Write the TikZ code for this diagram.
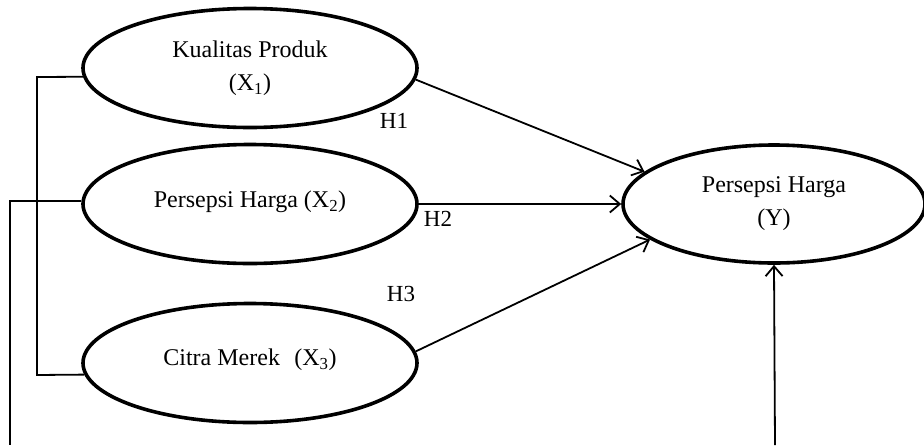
\documentclass[tikz,border=0pt]{standalone}
\usepackage{fontspec}
\setmainfont{Liberation Serif}
\usetikzlibrary{shapes.geometric,arrows.meta}
\tikzset{
  construct/.style={ellipse,draw,line width=3.6pt,inner sep=0pt,align=center,
    font=\fontsize{24}{33}\selectfont},
  link/.style={line width=1.8pt},
  arr/.style={link,-{Straight Barb[length=10pt,width=17pt,line width=1.8pt]}},
  hyp/.style={font=\fontsize{23}{26}\selectfont,inner sep=0pt}
}
\begin{document}
\begin{tikzpicture}[x=1pt,y=-1pt]
\useasboundingbox (0,0) rectangle (924,445);
\clip (0,0) rectangle (924,445);
\node[construct,minimum width=334pt,minimum height=119pt] (X1) at (250,68) {Kualitas Produk\\(X\textsubscript{1})};
\node[construct,minimum width=334pt,minimum height=119pt] (X2) at (250,204) {\raisebox{10pt}{Persepsi Harga (X\textsubscript{2})}};
\node[construct,minimum width=334pt,minimum height=119pt] (X3) at (250,363) {\raisebox{11pt}{Citra Merek\hspace{0.6em}(X\textsubscript{3})}};
\node[construct,minimum width=302pt,minimum height=118pt] (Y) at (774,204) {Persepsi Harga\\(Y)};
\node[hyp] (H1) at (394,121) {H1};
\node[hyp] (H2) at (438,219) {H2};
\node[hyp] (H3) at (401,294) {H3};
\coordinate (L1) at (37,77);
\coordinate (L3) at (37,375);
\coordinate (B1) at (10,445);
\coordinate (B2) at (775,445);
\draw[link] (X1.183) -- (L1) -- (L3) -- (X3.184);
\draw[link] (X2.179) -| (B1);
\draw[arr] (X1.-4.2) -- (Y.166.5);
\draw[arr] (X2.east) -- (Y.west);
\draw[arr] (X3.4.2) -- (Y.196.7);
\draw[arr] (B2) -- (Y.south);
\end{tikzpicture}
\end{document}
